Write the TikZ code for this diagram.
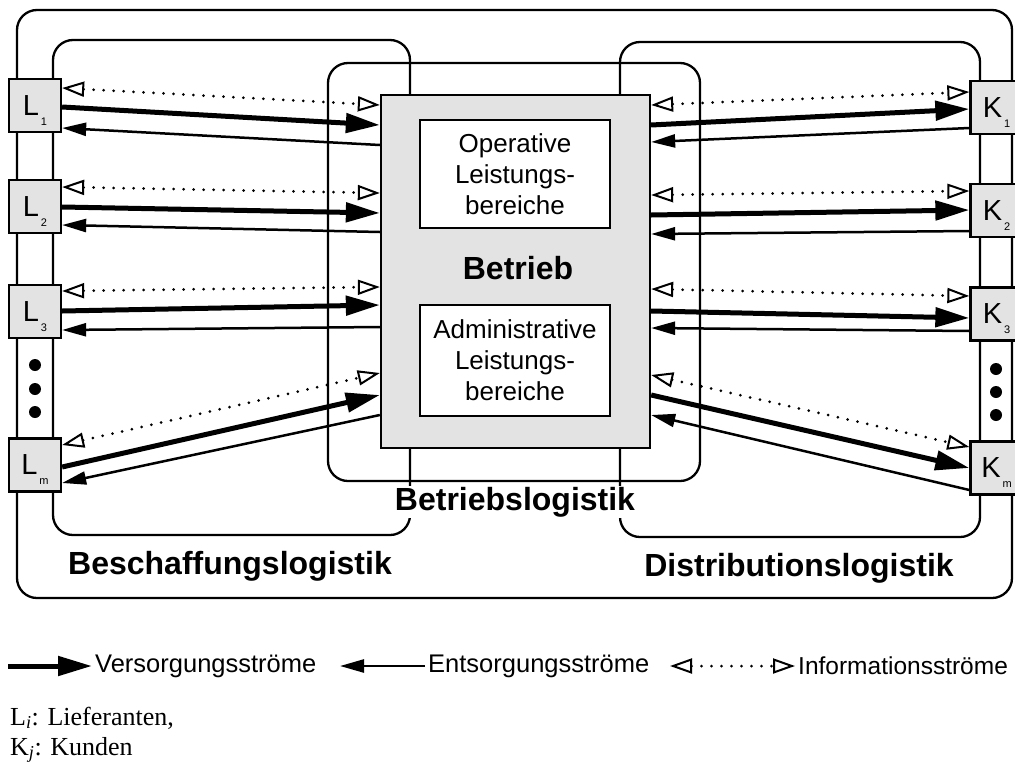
\documentclass[tikz,border=0pt]{standalone}
\usepackage{fontspec}
\setmainfont{Liberation Serif}
\setsansfont{Liberation Sans}
\usetikzlibrary{arrows.meta}

% label of a partner box: letter with a small, low index
\newcommand{\partnerlabel}[2]{{\fontsize{29}{29}\selectfont #1}\smash{\raisebox{-10pt}{\fontsize{11}{11}\selectfont\,#2}}}

\tikzset{
  frame/.style={draw, line width=2.3pt, rounded corners=20pt},
  betriebbox/.style={draw, line width=2.3pt, fill=gray!22, inner sep=0pt},
  areabox/.style={draw, line width=2.3pt, fill=white, inner sep=0pt,
    minimum width=190pt, align=center,
    font=\sffamily\fontsize{26}{31}\selectfont},
  partner/.style={draw, line width=2.3pt, fill=gray!22, minimum width=52pt,
    minimum height=53pt, inner sep=0pt, font=\sffamily},
  dotmark/.style={fill=black, circle, inner sep=0pt, minimum size=12pt},
  biglabel/.style={font=\sffamily\bfseries\fontsize{32}{32}\selectfont, inner sep=1pt},
  legendtext/.style={font=\sffamily\fontsize{25.5}{26}\selectfont, anchor=west, inner sep=3pt},
  notetext/.style={font=\fontsize{26}{30}\selectfont, anchor=west, inner sep=0pt},
  vers/.style={line width=5pt, -{Triangle[length=34pt,width=19pt]}},
  ents/.style={line width=2.5pt, -{Triangle[length=24pt,width=13pt]}},
  info/.style={line width=3pt, line cap=round, dash pattern=on 0pt off 10pt,
    {Triangle[open,length=22pt,width=15pt,line width=2pt]}-{Triangle[open,length=22pt,width=15pt,line width=2pt]}},
}

\begin{document}
\begin{tikzpicture}[x=1pt,y=-1pt]
\useasboundingbox (0,0) rectangle (1015,774);

% logistics areas
\draw[frame] (17,10) rectangle (1012,598);
\draw[frame] (53,40) rectangle (410,535);
\draw[frame] (620,42) rectangle (980,537);
\draw[frame] (328,63) rectangle (700,481);

% company with its two areas
\node[betriebbox, minimum width=269pt, minimum height=353pt] (betrieb) at (515.5,271.5) {};
\node[areabox, minimum height=108pt] (operativ) at (515,174) {Operative\\Leistungs-\\bereiche};
\node[areabox, minimum height=111pt] (admin) at (515,360.5) {Administrative\\Leistungs-\\bereiche};
\node[biglabel] (betriebtxt) at (518,268) {Betrieb};

% suppliers
\node[partner] (L1) at (35,105.5) {\partnerlabel{L}{1}};
\node[partner] (L2) at (35,206.5) {\partnerlabel{L}{2}};
\node[partner] (L3) at (35,311.5) {\partnerlabel{L}{3}};
\node[partner] (Lm) at (35,465) {\partnerlabel{L}{m}};
\node[dotmark] (ld1) at (35,365) {};
\node[dotmark] (ld2) at (35,389) {};
\node[dotmark] (ld3) at (35,412) {};

% customers
\node[partner] (K1) at (996.5,107.5) {\partnerlabel{K}{1}};
\node[partner] (K2) at (996.5,210.5) {\partnerlabel{K}{2}};
\node[partner] (K3) at (996.5,314) {\partnerlabel{K}{3}};
\node[partner] (Km) at (996.5,468) {\partnerlabel{K}{m}};
\node[dotmark] (kd1) at (996,369) {};
\node[dotmark] (kd2) at (996,392) {};
\node[dotmark] (kd3) at (996,415) {};

% flows between suppliers and company
\draw[info] (L1.east |- 0,88) -- (betrieb.west |- 0,105);
\draw[vers] (L1.east |- 0,107) -- (betrieb.west |- 0,125);
\draw[ents] (betrieb.west |- 0,145) -- (L1.east |- 0,128);

\draw[info] (L2.east |- 0,187) -- (betrieb.west |- 0,193);
\draw[vers] (L2.east |- 0,207) -- (betrieb.west |- 0,213);
\draw[ents] (betrieb.west |- 0,232) -- (L2.east |- 0,225);

\draw[info] (L3.east |- 0,291) -- (betrieb.west |- 0,287);
\draw[vers] (L3.east |- 0,311) -- (betrieb.west |- 0,305);
\draw[ents] (betrieb.west |- 0,327) -- (L3.east |- 0,330);

\draw[info] (Lm.east |- 0,445) -- (betrieb.west |- 0,373);
\draw[vers] (Lm.east |- 0,467) -- (betrieb.west |- 0,395);
\draw[ents] (betrieb.west |- 0,415) -- (Lm.east |- 0,483);

% flows between company and customers
\draw[info] (betrieb.east |- 0,105) -- (K1.west |- 0,92);
\draw[vers] (betrieb.east |- 0,125) -- (K1.west |- 0,109);
\draw[ents] (K1.west |- 0,128) -- (betrieb.east |- 0,142);

\draw[info] (betrieb.east |- 0,195) -- (K2.west |- 0,191);
\draw[vers] (betrieb.east |- 0,215) -- (K2.west |- 0,210);
\draw[ents] (K2.west |- 0,231) -- (betrieb.east |- 0,234);

\draw[info] (betrieb.east |- 0,289) -- (K3.west |- 0,296);
\draw[vers] (betrieb.east |- 0,311) -- (K3.west |- 0,318);
\draw[ents] (K3.west |- 0,331) -- (betrieb.east |- 0,328);

\draw[info] (betrieb.east |- 0,375) -- (Km.west |- 0,447);
\draw[vers] (betrieb.east |- 0,395) -- (Km.west |- 0,468);
\draw[ents] (Km.west |- 0,490) -- (betrieb.east |- 0,415);

% area names
\node[biglabel, fill=white] (blogtxt) at (515,502) {Betriebslogistik};
\node[biglabel] (beschtxt) at (230,566) {Beschaffungslogistik};
\node[biglabel] (disttxt) at (799,568) {Distributionslogistik};

% legend
\node[legendtext] (legV) at (92,666) {Versorgungsströme};
\node[legendtext] (legE) at (425,666) {Entsorgungsströme};
\node[legendtext, font=\sffamily\fontsize{24.5}{26}\selectfont] (legI) at (795,666) {Informationsströme};
\coordinate (lv0) at (8,666);
\coordinate (le1) at (340,666);
\coordinate (li0) at (670,666);
\draw[vers] (lv0) -- (legV.west);
\draw[ents] (legE.west) -- (le1);
\draw[info] (li0) -- (legI.west);

\node[notetext] (noteL) at (10,718) {L\textsubscript{\textit{i}}: Lieferanten,};
\node[notetext] (noteK) at (10,750) {K\textsubscript{\textit{j}}: Kunden};
\end{tikzpicture}
\end{document}
